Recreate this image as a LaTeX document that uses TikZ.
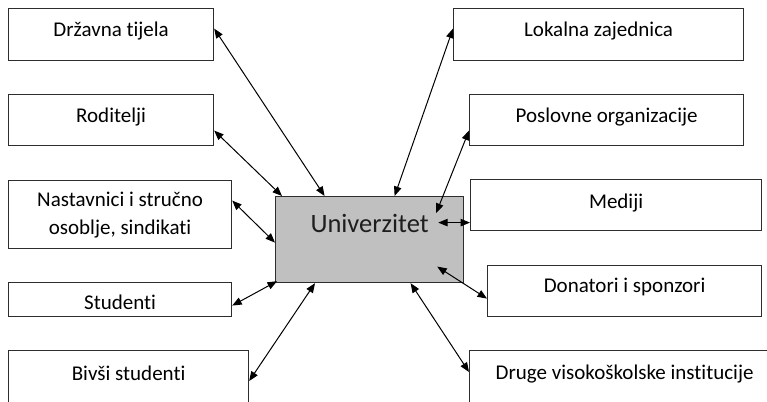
\documentclass[tikz,border=0pt]{standalone}
\usepackage{fontspec}
\setmainfont{Carlito}[Ligatures=NoCommon]
\usetikzlibrary{arrows.meta}
\begin{document}
\begin{tikzpicture}[x=1pt,y=-1pt,
  box/.style={draw={rgb,255:red,45;green,45;blue,45}, line width=1.2pt, fill=white,
    anchor=north west, inner ysep=0pt, inner xsep=0pt,
    font=\fontsize{21}{28}\selectfont, text=black},
  conn/.style={line width=1pt, {Triangle[length=9.5pt,width=7.5pt]}-{Triangle[length=9.5pt,width=7.5pt]}}]
\useasboundingbox (0,0) rectangle (767,401);
\clip (0,0) rectangle (767,401);
% left column
\node[box, minimum width=205pt, text height=28pt, text depth=24pt] (dt) at (8,8) {Državna tijela};
\node[box, minimum width=205pt, text height=28pt, text depth=23pt] (rod) at (8,94) {Roditelji};
\node[box, minimum width=223pt, minimum height=68pt] (nas) at (8,180)
  {\raisebox{-4pt}{\begin{tabular}{@{}c@{}}Nastavnici i stručno\\osoblje, sindikati\end{tabular}}};
\node[box, minimum width=223pt, text height=27pt, text depth=7pt] (stu) at (8,282) {Studenti};
\node[box, minimum width=240pt, text height=30pt, text depth=40pt] (biv) at (8,350) {Bivši studenti};
% right column
\node[box, minimum width=290pt, text height=28pt, text depth=24pt] (lok) at (453,8) {Lokalna zajednica};
\node[box, minimum width=274pt, text height=28pt, text depth=23pt] (pos) at (469,94) {Poslovne organizacije};
\node[box, minimum width=291pt, text height=29pt, text depth=22pt] (med) at (470,179) {Mediji};
\node[box, minimum width=274pt, text height=27pt, text depth=24pt] (don) at (487,265) {Donatori i sponzori};
\node[box, minimum width=310pt, text height=29pt, text depth=40pt] (dru) at (469,350) {Druge visokoškolske institucije};
% centre
\node[box, fill={rgb,255:red,192;green,192;blue,192}, minimum width=188pt,
  text height=36pt, text depth=50pt, font=\fontsize{26.5}{30}\selectfont,
  text={rgb,255:red,30;green,30;blue,30}] (uni) at (275,196) {Univerzitet};
% connectors
\draw[conn] ([yshift=6pt]dt.east) -- ([xshift=-45pt]uni.north);
\draw[conn] ([yshift=-10.5pt]rod.east) -- ([xshift=7pt]uni.north west);
\draw[conn] ([yshift=14pt]nas.east) -- ([yshift=-3pt]uni.west);
\draw[conn] ([yshift=-6pt]stu.east) -- ([xshift=2pt,yshift=2pt]uni.south west);
\draw[conn] ([yshift=-31pt]biv.north east) -- ([xshift=40pt]uni.south west);
\draw[conn] ([yshift=6pt]lok.west) -- ([xshift=25pt]uni.north);
\draw[conn] ([yshift=-10.5pt]pos.west) -- ([xshift=-28pt,yshift=-17pt]uni.north east);
\draw[conn] ([yshift=-17.5pt]med.west) -- ([xshift=-26pt,yshift=17pt]uni.east);
\draw[conn] ([yshift=-7.5pt]don.west) -- ([xshift=-27pt,yshift=-27pt]uni.east);
\draw[conn] ([yshift=-22pt]dru.north west) -- ([xshift=41pt]uni.south);
\end{tikzpicture}
\end{document}
